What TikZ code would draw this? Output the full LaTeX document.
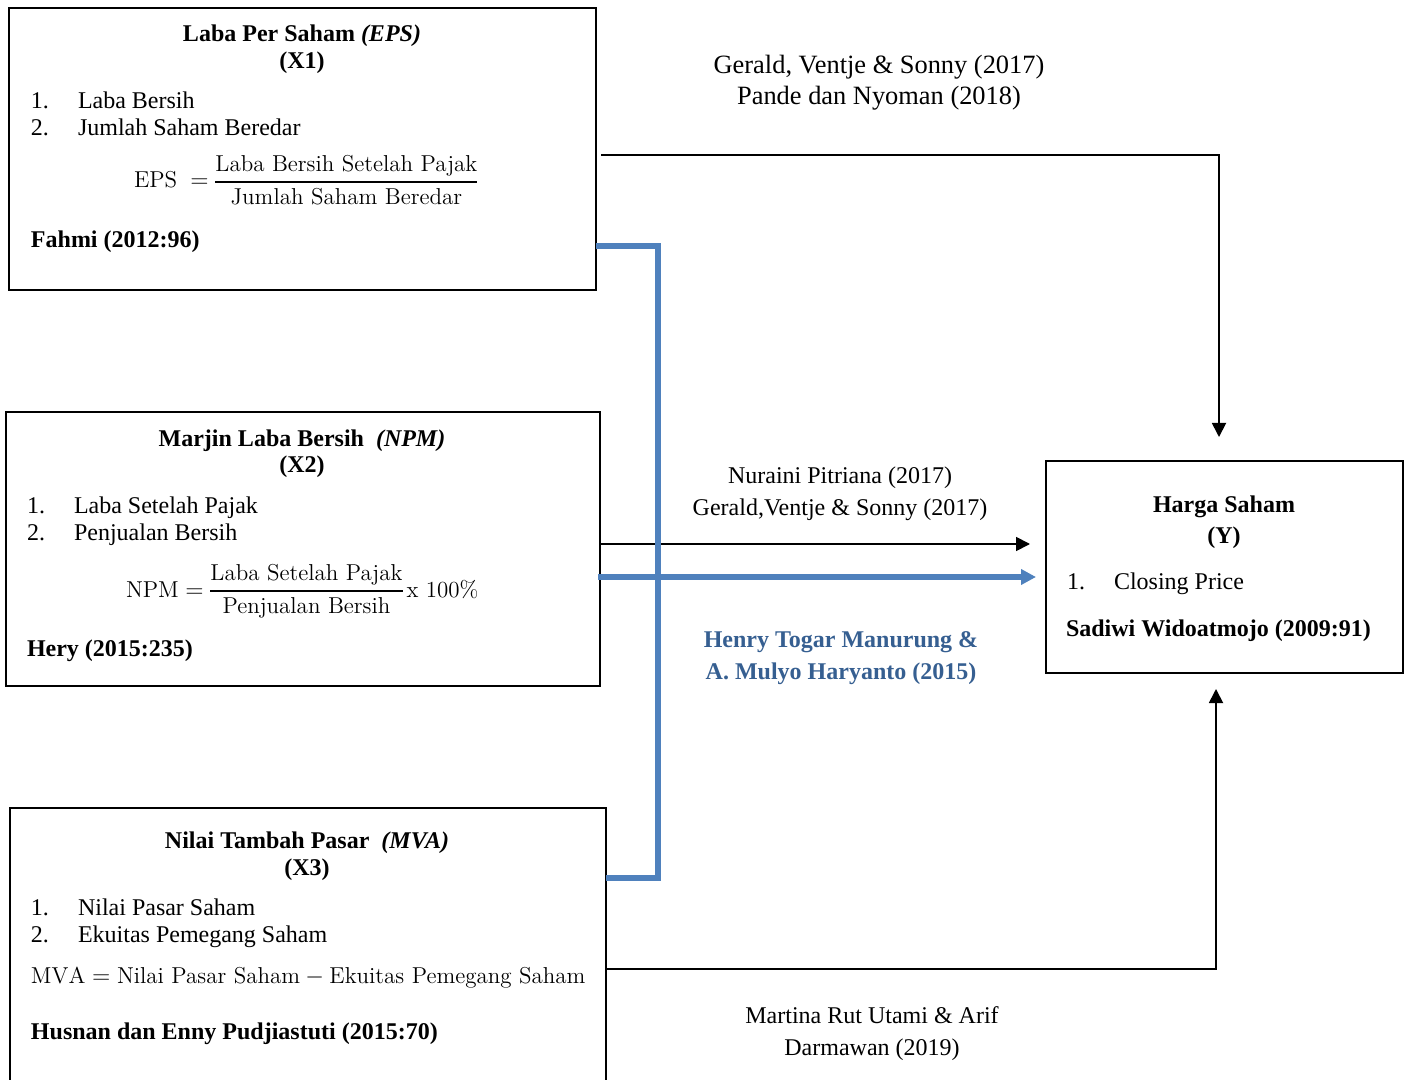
\documentclass[tikz,border=0pt]{standalone}
\usepackage{fontspec}
\usepackage{amsmath}
\usetikzlibrary{arrows.meta,calc}
\newfontfamily\tnr{Liberation Serif}
\definecolor{lineblue}{RGB}{79,129,189}
\definecolor{textblue}{RGB}{54,95,145}
\setlength{\nulldelimiterspace}{0pt}
\begin{document}
\begin{tikzpicture}[x=0.5pt,y=-0.5pt,
  every node/.style={inner sep=0pt, outer sep=0pt},
  box/.style={draw=black, line width=1.1pt, rectangle, anchor=north west},
  txt/.style={font=\tnr\fontsize{12}{14}\selectfont, anchor=base west},
  ctxt/.style={font=\tnr\fontsize{12}{14}\selectfont, anchor=base},
  btxt/.style={font=\tnr\bfseries\fontsize{12}{14}\selectfont, anchor=base west},
  bctxt/.style={font=\tnr\bfseries\fontsize{12}{14}\selectfont, anchor=base},
  frm/.style={font=\rmfamily\fontsize{11.5}{14}\selectfont, anchor=base west},
  conn/.style={draw=black, line width=0.9pt},
  arr/.style={conn, -{Triangle[length=7pt,width=7pt]}},
  bline/.style={draw=lineblue, line width=2.6pt},
  barr/.style={bline, -{Triangle[length=7.5pt,width=7.5pt]}},
]
\useasboundingbox (0,0) rectangle (1408,1080);
\clip (0,0) rectangle (1408,1080);

% boxes
\node[box, minimum width=293.5pt, minimum height=141pt] (x1) at (9,8) {};
\node[box, minimum width=297pt, minimum height=137pt] (x2) at (6,412) {};
\node[box, minimum width=298pt, minimum height=141pt] (x3) at (10,808) {};
\node[box, minimum width=178.5pt, minimum height=106pt] (y) at (1046,461) {};

% X1 content
\node[bctxt] (t1) at (302,42) {Laba Per Saham \textit{(EPS)}};
\node[bctxt] (t1b) at (302,69) {(X1)};
\node[txt] (n1a) at (31,109) {1.};
\node[txt] (i1a) at (78,109) {Laba Bersih};
\node[txt] (n1b) at (31,136) {2.};
\node[txt] (i1b) at (78,136) {Jumlah Saham Beredar};
\node[frm] (f1) at (134,188) {$\mathrm{EPS}\;=\genfrac{}{}{0.9pt}{0}{\text{Laba Bersih Setelah Pajak}}{\text{Jumlah Saham Beredar}}$};
\node[btxt] (r1) at (31,248) {Fahmi (2012:96)};

% X2 content
\node[bctxt] (t2) at (302,446) {Marjin Laba Bersih\ \ \textit{(NPM)}};
\node[bctxt] (t2b) at (302,473) {(X2)};
\node[txt] (n2a) at (27,513) {1.};
\node[txt] (i2a) at (74,513) {Laba Setelah Pajak};
\node[txt] (n2b) at (27,540) {2.};
\node[txt] (i2b) at (74,540) {Penjualan Bersih};
\node[frm] (f2) at (126,597) {$\mathrm{NPM}=\genfrac{}{}{0.9pt}{0}{\text{Laba Setelah Pajak}}{\text{Penjualan Bersih}}\,\text{x 100\%}$};
\node[btxt] (r2) at (27,656) {Hery (2015:235)};

% X3 content
\node[bctxt] (t3) at (307,848) {Nilai Tambah Pasar\ \ \textit{(MVA)}};
\node[bctxt] (t3b) at (307,875) {(X3)};
\node[txt] (n3a) at (31,915) {1.};
\node[txt] (i3a) at (78,915) {Nilai Pasar Saham};
\node[txt] (n3b) at (31,942) {2.};
\node[txt] (i3b) at (78,942) {Ekuitas Pemegang Saham};
\node[frm] (f3) at (31,983) {$\mathrm{MVA}=\text{Nilai Pasar Saham}-\text{Ekuitas Pemegang Saham}$};
\node[btxt] (r3) at (31,1039) {Husnan dan Enny Pudjiastuti (2015:70)};

% Y content
\node[bctxt] (ty) at (1224,512) {Harga Saham};
\node[bctxt] (tyb) at (1224,543) {(Y)};
\node[txt] (nya) at (1067,589) {1.};
\node[txt] (iya) at (1114,589) {Closing Price};
\node[btxt] (ry) at (1066,636) {Sadiwi Widoatmojo (2009:91)};

% connector labels
\node[ctxt, font=\tnr\fontsize{13.2}{15}\selectfont] (l1a) at (879,74) {Gerald, Ventje \& Sonny (2017)};
\node[ctxt, font=\tnr\fontsize{13.2}{15}\selectfont] (l1b) at (879,105) {Pande dan Nyoman (2018)};
\node[ctxt] (l2a) at (840,483) {Nuraini Pitriana (2017)};
\node[ctxt] (l2b) at (840,516) {Gerald,Ventje \& Sonny (2017)};
\node[bctxt, text=textblue] (l4a) at (841,647) {Henry Togar Manurung \&};
\node[bctxt, text=textblue] (l4b) at (841,679) {A. Mulyo Haryanto (2015)};
\node[ctxt] (l3a) at (872,1023) {Martina Rut Utami \& Arif};
\node[ctxt] (l3b) at (872,1055) {Darmawan (2019)};

% connector points
\coordinate (s1) at ($(x1.north east)+(5,147)$);
\coordinate (e1) at ($(y.north)+(-5.5,-24)$);
\coordinate (s2) at ($(x2.north east)+(0,132)$);
\coordinate (e2) at ($(y.north west)+(-16,83)$);
\coordinate (s3) at ($(x3.north east)+(0,161)$);
\coordinate (e3) at ($(y.south)+(-8.5,16)$);
\coordinate (sb) at ($(x2.north east)+(-2,165)$);
\coordinate (eb) at ($(y.north west)+(-10,116)$);
\coordinate (k1) at ($(x1.north east)+(0,238)$);
\coordinate (k3) at ($(x3.north east)+(0,70)$);

% black connectors
\draw[arr] (s1) -| (e1);
\draw[arr] (s2) -- (e2);
\draw[arr] (s3) -| (e3);

% blue connectors
\draw[bline] (k1) -- ++(62,0) |- (k3);
\draw[barr] (sb) -- (eb);
\end{tikzpicture}
\end{document}
